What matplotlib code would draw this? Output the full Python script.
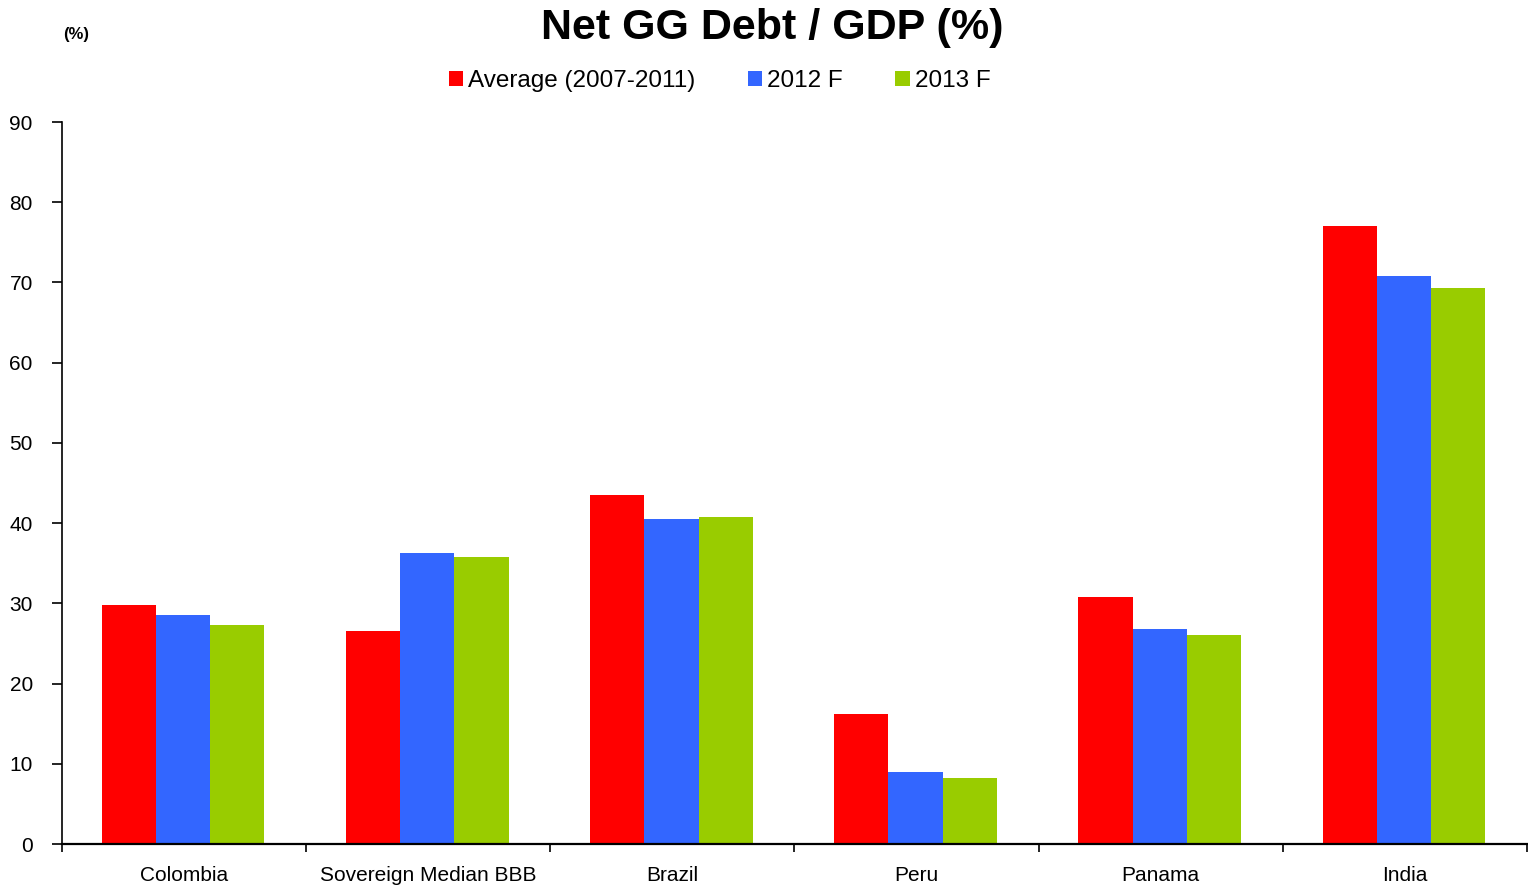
import numpy as np
import matplotlib
matplotlib.use("Agg")
import matplotlib.pyplot as plt

plt.rcParams['font.family'] = ['Liberation Sans', 'DejaVu Sans']

# Net general government debt as % of GDP
paises = ['Colombia', 'Sovereign Median BBB', 'Brazil', 'Peru', 'Panama', 'India']
media_2007_2011 = [29.8, 26.6, 43.5, 16.2, 30.8, 77.1]
prev_2012 = [28.5, 36.3, 40.5, 9.0, 26.8, 70.8]
prev_2013 = [27.3, 35.8, 40.8, 8.2, 26.1, 69.3]
series_nomes = ['Average (2007-2011)', '2012 F', '2013 F']
cores = ['#ff0000', '#3366ff', '#99cc00']

fig = plt.figure(figsize=(15.28, 8.88), dpi=100)
ax = fig.add_axes([0.0406, 0.0495, 0.9587, 0.8131])

x = np.arange(len(paises))
largura = 0.222
for k, (vals, nome, cor) in enumerate(zip([media_2007_2011, prev_2012, prev_2013], series_nomes, cores)):
    ax.bar(x + (k - 1) * largura - 0.004, vals, largura, color=cor, label=nome)

ax.set_xlim(-0.5, len(paises) - 0.5)
ax.set_ylim(0, 90)
ax.set_yticks(range(0, 91, 10))
ax.tick_params(axis='y', labelsize=15, direction='out', length=7, width=1.2, pad=14)

# category ticks sit between the groups, labels centred under each group
ax.set_xticks(np.arange(-0.5, len(paises)), minor=False)
ax.set_xticklabels([])
ax.set_xticks(x, minor=True)
ax.set_xticklabels(paises, minor=True)
ax.tick_params(axis='x', which='major', direction='out', length=6, width=1.2)
ax.tick_params(axis='x', which='minor', length=0, labelsize=15, pad=16)

for lado in ['top', 'right']:
    ax.spines[lado].set_visible(False)
ax.spines['left'].set_linewidth(1.2)
ax.spines['bottom'].set_linewidth(1.6)

fig.text(0.5055, 0.968, 'Net GG Debt / GDP (%)', ha='center', va='center',
         fontsize=31, fontweight='bold')
fig.text(0.05, 0.961, '(%)', ha='center', va='center', fontsize=12, fontweight='bold')

fig.legend(loc='center', bbox_to_anchor=(0.471, 0.909), ncol=3, frameon=False,
           fontsize=17.5, handlelength=0.6, handleheight=0.6, handletextpad=0.2,
           columnspacing=2.15)

fig.savefig('out.png', dpi=100)
